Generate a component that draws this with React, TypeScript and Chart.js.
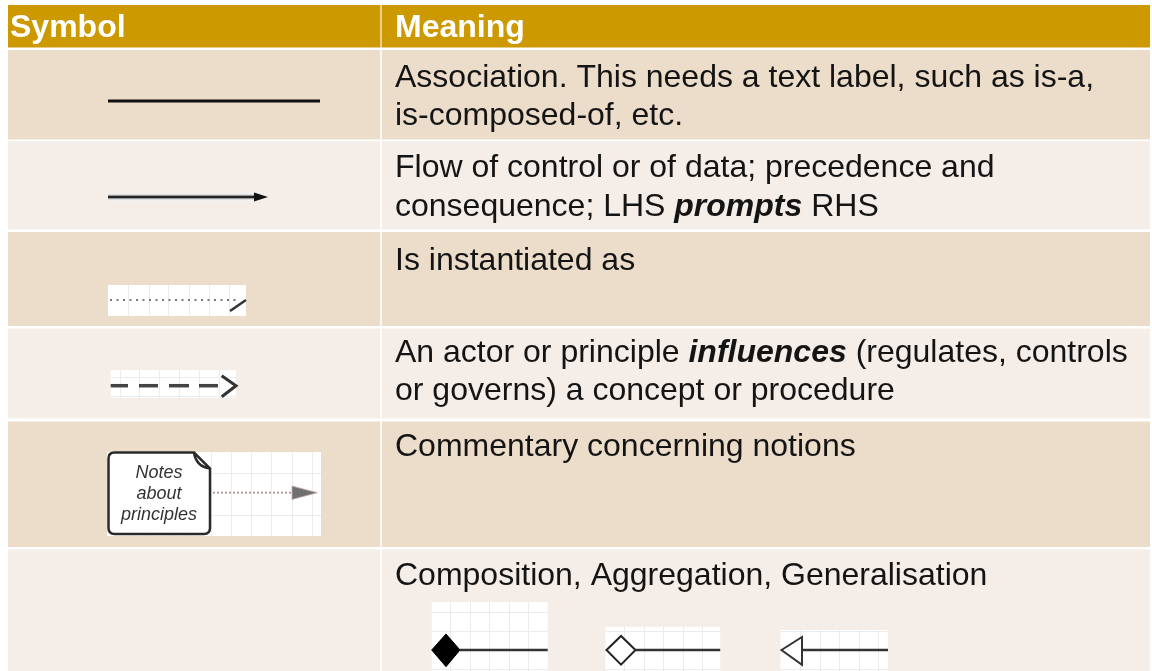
import React, { useEffect, useRef } from "react";
import { Chart, registerables } from "chart.js";

Chart.register(...registerables);

// ---------- content ----------
const headers = ["Symbol", "Meaning"];
type Seg = { t: string; bi?: boolean };
const associationLines: Seg[][] = [
  [{ t: "Association. This needs a text label, such as is-a," }],
  [{ t: "is-composed-of, etc." }],
];
const flowLines: Seg[][] = [
  [{ t: "Flow of control or of data; precedence and" }],
  [{ t: "consequence; LHS " }, { t: "prompts", bi: true }, { t: " RHS" }],
];
const instantiationLines: Seg[][] = [[{ t: "Is instantiated as" }]];
const influenceLines: Seg[][] = [
  [{ t: "An actor or principle " }, { t: "influences", bi: true }, { t: " (regulates, controls" }],
  [{ t: "or governs) a concept or procedure" }],
];
const commentaryLines: Seg[][] = [[{ t: "Commentary concerning notions" }]];
const structureLines: Seg[][] = [[{ t: "Composition, Aggregation, Generalisation" }]];
const meanings = [associationLines, flowLines, instantiationLines, influenceLines, commentaryLines, structureLines];
const symbolKinds = ["association", "flow", "instantiation", "influence", "commentary", "structure"];
const noteLines = ["Notes", "about", "principles"];

// ---------- layout ----------
const W = 1152;
const H = 671;
const TABLE_L = 8;
const TABLE_R = 1150;
const COL_SPLIT = 381;
const HEADER_TOP = 5;
const HEADER_BOTTOM = 47.5;
const ROW_TOPS = [50, 141, 232, 328.5, 421.5, 549.5];
const ROW_BOTTOMS = [139.5, 229.5, 326, 418.5, 547, 671];
const BASELINES = [[87, 125], [177, 216], [270], [362, 400], [456], [585]];
const TEXT_X = 395;
const HEADER_BASELINE = 37;
const FONT = '"Liberation Sans", Arial, sans-serif';
const HEADER_COLOR = "#CC9900";
const ROW_COLORS = ["#ECDDCB", "#F5EDE7"];
const GRID_COLOR = "#ECECEC";

const tablePlugin = {
  id: "tablePlugin",
  beforeDraw(chart: any) {
    const ctx: CanvasRenderingContext2D = chart.ctx;
    const xs = chart.scales.x;
    const ys = chart.scales.y;
    const X = (v: number) => xs.getPixelForValue(v);
    const Y = (v: number) => ys.getPixelForValue(v);
    const rect = (x0: number, y0: number, x1: number, y1: number, c: string) => {
      ctx.fillStyle = c;
      ctx.fillRect(X(x0), Y(y0), X(x1) - X(x0), Y(y1) - Y(y0));
    };
    const line = (pts: number[][], c: string, w: number, dash: number[] = [], cap: CanvasLineCap = "butt") => {
      ctx.save();
      ctx.strokeStyle = c;
      ctx.lineWidth = w;
      ctx.lineCap = cap;
      ctx.lineJoin = "miter";
      ctx.setLineDash(dash);
      ctx.beginPath();
      pts.forEach((p, i) => (i ? ctx.lineTo(X(p[0]), Y(p[1])) : ctx.moveTo(X(p[0]), Y(p[1]))));
      ctx.stroke();
      ctx.restore();
    };
    const poly = (pts: number[][], fill: string | null, stroke: string | null, w = 2) => {
      ctx.save();
      ctx.beginPath();
      pts.forEach((p, i) => (i ? ctx.lineTo(X(p[0]), Y(p[1])) : ctx.moveTo(X(p[0]), Y(p[1]))));
      ctx.closePath();
      if (fill) {
        ctx.fillStyle = fill;
        ctx.fill();
      }
      if (stroke) {
        ctx.strokeStyle = stroke;
        ctx.lineWidth = w;
        ctx.stroke();
      }
      ctx.restore();
    };
    const gridBox = (x0: number, y0: number, x1: number, y1: number, gx: number[], gy: number[]) => {
      rect(x0, y0, x1, y1, "#FFFFFF");
      ctx.save();
      ctx.strokeStyle = GRID_COLOR;
      ctx.lineWidth = 1;
      gx.forEach((g) => {
        ctx.beginPath();
        ctx.moveTo(Math.round(X(g)) + 0.5, Y(y0));
        ctx.lineTo(Math.round(X(g)) + 0.5, Y(y1));
        ctx.stroke();
      });
      gy.forEach((g) => {
        ctx.beginPath();
        ctx.moveTo(X(x0), Math.round(Y(g)) + 0.5);
        ctx.lineTo(X(x1), Math.round(Y(g)) + 0.5);
        ctx.stroke();
      });
      ctx.restore();
    };
    const steps = (a: number, b: number, s: number) => {
      const out: number[] = [];
      for (let v = a; v < b; v += s) out.push(v);
      return out;
    };

    // background
    rect(0, 0, W, H, "#FFFFFF");
    // header
    rect(TABLE_L, HEADER_TOP, TABLE_R, HEADER_BOTTOM, HEADER_COLOR);
    // rows
    ROW_TOPS.forEach((t, i) => rect(TABLE_L, t, TABLE_R, ROW_BOTTOMS[i], ROW_COLORS[i % 2]));
    // column separator
    rect(COL_SPLIT - 1, HEADER_TOP, COL_SPLIT + 1, HEADER_BOTTOM, "rgba(255,255,255,0.55)");
    rect(COL_SPLIT - 1, HEADER_BOTTOM, COL_SPLIT + 1, H, "rgba(255,255,255,0.8)");

    // header text
    ctx.save();
    ctx.fillStyle = "#FFFFFF";
    ctx.font = `bold 32px ${FONT}`;
    ctx.textBaseline = "alphabetic";
    ctx.fillText(headers[0], X(10), Y(HEADER_BASELINE));
    ctx.fillText(headers[1], X(TEXT_X), Y(HEADER_BASELINE));
    ctx.restore();

    // meanings
    ctx.save();
    ctx.fillStyle = "#141414";
    ctx.textBaseline = "alphabetic";
    meanings.forEach((lines, r) => {
      lines.forEach((segs, li) => {
        let x = X(TEXT_X);
        segs.forEach((s) => {
          ctx.font = s.bi ? `italic bold 32px ${FONT}` : `32px ${FONT}`;
          ctx.fillText(s.t, x, Y(BASELINES[r][li]));
          x += ctx.measureText(s.t).width;
        });
      });
    });
    ctx.restore();

    // symbols
    symbolKinds.forEach((kind) => {
      if (kind === "association") {
        line([[108, 101], [320, 101]], "#111111", 3);
      } else if (kind === "flow") {
        rect(108, 193, 262, 201, "#F2F2F2");
        line([[108, 197], [256, 197]], "#9A9A9A", 4.5);
        line([[108, 197], [256, 197]], "#222222", 2);
        poly([[254, 192.5], [268, 197], [254, 201.5]], "#111111", null);
      } else if (kind === "instantiation") {
        gridBox(108, 285, 246, 316, [128, 149, 168, 189, 209, 229], []);
        line([[110, 300], [240, 300]], "#777777", 2, [2, 4.5]);
        line([[230, 311], [246, 300]], "#333333", 2.5);
      } else if (kind === "influence") {
        gridBox(110.7, 370, 236, 398, [120, 139, 159, 179, 199, 219], [376.7, 395.7]);
        [[110.7, 128], [139, 158], [169, 189], [199, 218]].forEach((d) =>
          line([[d[0], 385.7], [d[1], 385.7]], "#444444", 3.5)
        );
        line([[221.7, 375.7], [236, 385.7], [221.7, 396.7]], "#333333", 3);
      } else if (kind === "commentary") {
        gridBox(107, 452, 321, 536, steps(130, 321, 20.2), [473, 515]);
        // note shape
        ctx.save();
        const x0 = X(108.5), y0 = Y(452.5), x1 = X(210), y1 = Y(534), rr = 6, fold = 16;
        ctx.beginPath();
        ctx.moveTo(x0 + rr, y0);
        ctx.lineTo(x1 - fold, y0);
        ctx.lineTo(x1, y0 + fold);
        ctx.lineTo(x1, y1 - rr);
        ctx.quadraticCurveTo(x1, y1, x1 - rr, y1);
        ctx.lineTo(x0 + rr, y1);
        ctx.quadraticCurveTo(x0, y1, x0, y1 - rr);
        ctx.lineTo(x0, y0 + rr);
        ctx.quadraticCurveTo(x0, y0, x0 + rr, y0);
        ctx.closePath();
        ctx.fillStyle = "#FFFFFF";
        ctx.fill();
        ctx.strokeStyle = "#2A2A2A";
        ctx.lineWidth = 2.5;
        ctx.stroke();
        ctx.beginPath();
        ctx.moveTo(x1 - fold, y0);
        ctx.quadraticCurveTo(x1 - fold + 2, y0 + fold - 2, x1, y0 + fold);
        ctx.stroke();
        ctx.fillStyle = "#333333";
        ctx.font = `italic 18px ${FONT}`;
        ctx.textAlign = "center";
        ctx.textBaseline = "alphabetic";
        noteLines.forEach((t, i) => ctx.fillText(t, X(159), Y(478 + i * 21)));
        ctx.restore();
        line([[213, 492.7], [293, 492.7]], "#B89A9A", 2, [2, 2]);
        poly([[292, 486], [317.3, 492.7], [292, 499.4]], "#707070", "#C8A8A8", 0.8);
      } else if (kind === "structure") {
        gridBox(431.7, 602, 547.7, 671, steps(450, 547, 19.5), [612, 631, 650, 669]);
        poly([[431.7, 650], [446, 634], [460, 650], [446, 666.7]], "#000000", "#000000", 1);
        line([[460, 650], [547.7, 650]], "#333333", 2.5);

        gridBox(605.5, 626.8, 720.2, 671, steps(624, 720, 19.5), [631, 650, 669]);
        poly([[606.5, 650], [621, 636], [635.5, 650], [621, 664.7]], "#FFFFFF", "#222222", 2);
        line([[635.5, 650], [720.2, 650]], "#333333", 2.5);

        gridBox(780.5, 630, 888, 671, steps(800, 888, 19.5), [631, 650, 669]);
        poly([[781.5, 650], [802, 637], [802, 664.7]], "#FFFFFF", "#333333", 2);
        line([[802, 650], [888, 650]], "#333333", 2.5);
      }
    });
  },
};

export default function App() {
  const ref = useRef<HTMLCanvasElement | null>(null);
  useEffect(() => {
    document.body.style.margin = "0";
    if (!ref.current) return;
    const chart = new Chart(ref.current, {
      type: "scatter",
      data: { datasets: [{ data: [], showLine: false }] },
      options: {
        responsive: false,
        animation: false,
        events: [],
        layout: { padding: 0 },
        scales: {
          x: { type: "linear", min: 0, max: W, display: false },
          y: { type: "linear", min: 0, max: H, reverse: true, display: false },
        },
        plugins: { legend: { display: false }, tooltip: { enabled: false } },
      },
      plugins: [tablePlugin],
    });
    return () => chart.destroy();
  }, []);
  return <canvas ref={ref} width={W} height={H} style={{ display: "block", width: W, height: H }} />;
}
